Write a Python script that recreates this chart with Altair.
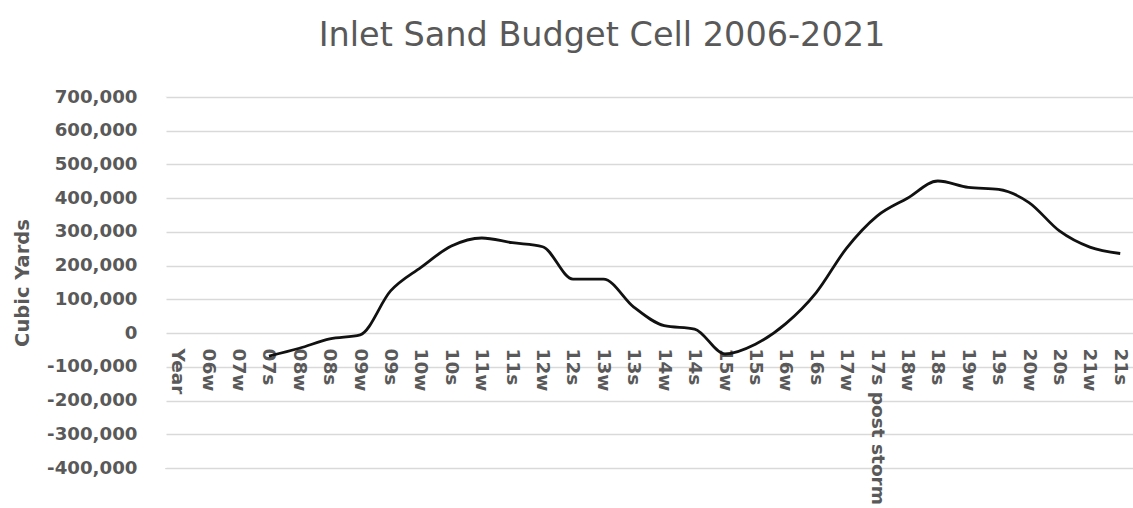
import altair as alt
import pandas as pd

categories = ["Year", "06w", "07w", "07s", "08w", "08s", "09w", "09s", "10w", "10s",
              "11w", "11s", "12w", "12s", "13w", "13s", "14w", "14s", "15w", "15s",
              "16w", "16s", "17w", "17s post storm", "18w", "18s", "19w", "19s",
              "20w", "20s", "21w", "21s"]
values = [None, None, None, -68000, -45000, -17000, -5000, 125000, 195000, 258000,
          282000, 268000, 256000, 160000, 160000, 77000, 22000, 12000, -62000, -33000,
          28000, 120000, 252000, 347000, 400000, 451000, 432000, 426000,
          387000, 303000, 255000, 236000]

df = pd.DataFrame({"cat": categories, "val": values})
df["order"] = range(len(df))

W, H = 968, 371
ymin, ymax = -400000, 700000
zero_offset = -H * (0 - ymin) / (ymax - ymin)

gray = "#595959"
font = "DejaVu Sans"

line = alt.Chart(df).transform_filter("isValid(datum.val)").mark_line(
    color="#111111", strokeWidth=2.8, interpolate="monotone"
).encode(
    x=alt.X("cat:N", sort=categories,
            scale=alt.Scale(type="point", padding=0.42, domain=categories),
            axis=alt.Axis(title=None, labelAngle=90, labelAlign="left",
                          labelBaseline="middle", ticks=False, domain=False,
                          grid=False, offset=zero_offset, labelPadding=15, zindex=0,
                          labelFont=font, labelFontSize=18.5, labelFontWeight="bold",
                          labelColor=gray, labelOverlap=False, labelLimit=400)),
    y=alt.Y("val:Q", scale=alt.Scale(domain=[ymin, ymax], nice=False, zero=False),
            axis=alt.Axis(title="Cubic Yards", values=list(range(ymin, ymax + 1, 100000)),
                          labelExpr="(datum.value < 0 ? '-' : '') + format(abs(datum.value), ',')",
                          ticks=False, domain=False, gridColor="#d9d9d9", gridWidth=1.5,
                          zindex=0,
                          labelFont=font, labelFontSize=18.2, labelFontWeight="bold",
                          labelColor=gray, labelPadding=28,
                          titleFont=font, titleFontSize=19.5, titleFontWeight="bold",
                          titleColor=gray, titleX=-143, titleY=H / 2,
                          titleAlign="center", titleBaseline="middle", titleAngle=-90)),
    order="order:Q",
)

edge_cover = alt.Chart(alt.Data(values=[{}])).mark_rule(
    color="white", strokeWidth=3
).encode(x=alt.value(0), y=alt.value(0), y2=alt.value(H))

chart = alt.layer(line, edge_cover).properties(
    width=W, height=H,
    title=alt.TitleParams("Inlet Sand Budget Cell 2006-2021", font=font, fontSize=33.5,
                          fontWeight="normal", color=gray, anchor="middle",
                          frame="group", dx=-47, offset=34),
    autosize=alt.AutoSizeParams(type="none"),
    padding={"left": 165, "top": 97, "right": 0, "bottom": 40},
).configure_view(
    strokeWidth=0, strokeOpacity=0
).configure(background="white")

chart.save("out.html", embed_options={"renderer": "svg", "actions": False})
